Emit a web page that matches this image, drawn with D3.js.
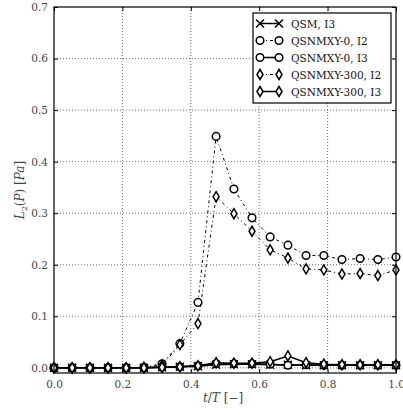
<!DOCTYPE html>
<html>
<head>
<meta charset="utf-8">
<script src="https://cdn.jsdelivr.net/npm/d3@7"></script>
<style>
  body { margin: 0; background: #fff; }
  svg { font-family: "DejaVu Serif", serif; }
  .tick-label { font-size: 10.5px; fill: #444; }
  .legend-text { font-size: 10.5px; fill: #111; }
</style>
</head>
<body>
<svg id="chart"></svg>
<script>
// sample times t/T
const tValues = [0.000, 0.053, 0.105, 0.158, 0.211, 0.263, 0.316, 0.368, 0.421, 0.474,
                 0.526, 0.579, 0.632, 0.684, 0.737, 0.789, 0.842, 0.895, 0.947, 1.000];

// L2(P) values
const qsmI3 =     [0.000, 0.000, 0.000, 0.000, 0.000, 0.000, 0.001, 0.002, 0.003, 0.006,
                   0.007, 0.007, 0.006, 0.006, 0.005, 0.005, 0.005, 0.005, 0.005, 0.005];
const qsn0I2 =    [0.000, 0.000, 0.000, 0.000, 0.000, 0.001, 0.008, 0.047, 0.127, 0.449,
                   0.347, 0.291, 0.254, 0.238, 0.218, 0.218, 0.210, 0.212, 0.210, 0.215];
const qsn0I3 =    [0.000, 0.000, 0.000, 0.000, 0.000, 0.000, 0.001, 0.002, 0.004, 0.008,
                   0.008, 0.008, 0.007, 0.005, 0.006, 0.005, 0.005, 0.005, 0.005, 0.005];
const qsn300I2 =  [0.000, 0.000, 0.000, 0.000, 0.000, 0.001, 0.005, 0.045, 0.086, 0.332,
                   0.299, 0.265, 0.229, 0.213, 0.192, 0.190, 0.182, 0.183, 0.179, 0.190];
const qsn300I3 =  [0.000, 0.000, 0.000, 0.000, 0.000, 0.000, 0.001, 0.002, 0.004, 0.010,
                   0.009, 0.009, 0.012, 0.023, 0.010, 0.007, 0.006, 0.006, 0.006, 0.006];

const xTicks = [0.0, 0.2, 0.4, 0.6, 0.8, 1.0];
const yTicks = [0.0, 0.1, 0.2, 0.3, 0.4, 0.5, 0.6, 0.7];

const seriesNames = ['QSM, I3', 'QSNMXY-0, I2', 'QSNMXY-0, I3', 'QSNMXY-300, I2', 'QSNMXY-300, I3'];
const seriesValues = [qsmI3, qsn0I2, qsn0I3, qsn300I2, qsn300I3];
const seriesMarkers = ['x', 'circle', 'circle', 'diamond', 'diamond'];
const seriesDashed = [false, true, false, true, false];

const containerWidth = 403, containerHeight = 415;
const margin = { top: 7, right: 7, bottom: 42, left: 54 };
const width = containerWidth - margin.left - margin.right;
const height = containerHeight - margin.top - margin.bottom;

const svg = d3.select('#chart')
    .attr('width', containerWidth)
    .attr('height', containerHeight);

const chart = svg.append('g')
    .attr('transform', `translate(${margin.left},${margin.top})`);

const xScale = d3.scaleLinear().domain([0, 1]).range([0, width]);
const yScale = d3.scaleLinear().domain([-0.01, 0.7]).range([height, 0]);

// grid
chart.selectAll('.xgrid')
    .data(xTicks.slice(1, -1))
    .join('line')
    .attr('x1', d => xScale(d)).attr('x2', d => xScale(d))
    .attr('y1', 0).attr('y2', height)
    .attr('stroke', '#333').attr('stroke-width', 0.7)
    .attr('stroke-dasharray', '1,2');

chart.selectAll('.ygrid')
    .data(yTicks.slice(0, -1))
    .join('line')
    .attr('x1', 0).attr('x2', width)
    .attr('y1', d => yScale(d)).attr('y2', d => yScale(d))
    .attr('stroke', '#333').attr('stroke-width', 0.7)
    .attr('stroke-dasharray', '1,2');

// axes with inward ticks on all sides
const fmt = d3.format('.1f');
const styleAxis = g => {
    g.select('.domain').remove();
    g.selectAll('.tick line').attr('stroke', '#000');
    g.selectAll('.tick text').attr('class', 'tick-label').attr('fill', null)
        .style('font-family', '"DejaVu Serif", serif');
};

chart.append('g')
    .attr('transform', `translate(0,${height})`)
    .call(d3.axisBottom(xScale).tickValues(xTicks).tickFormat(fmt).tickSizeInner(-4).tickPadding(8))
    .call(styleAxis);
chart.append('g')
    .call(d3.axisTop(xScale).tickValues(xTicks).tickFormat('').tickSizeInner(-4))
    .call(styleAxis);
chart.append('g')
    .call(d3.axisLeft(yScale).tickValues(yTicks).tickFormat(fmt).tickSizeInner(-4).tickPadding(6))
    .call(styleAxis);
chart.append('g')
    .attr('transform', `translate(${width},0)`)
    .call(d3.axisRight(yScale).tickValues(yTicks).tickFormat('').tickSizeInner(-4))
    .call(styleAxis);

// markers
const drawMarker = (sel, type) => {
    if (type === 'circle') {
        sel.append('circle').attr('r', 3.8)
            .attr('fill', '#fff').attr('stroke', '#000').attr('stroke-width', 1.5);
    } else if (type === 'diamond') {
        sel.append('path').attr('d', 'M0,-5L3,0L0,5L-3,0Z')
            .attr('fill', '#fff').attr('stroke', '#000').attr('stroke-width', 1.5);
    } else {
        sel.append('path').attr('d', 'M-4,-4L4,4M-4,4L4,-4')
            .attr('fill', 'none').attr('stroke', '#000').attr('stroke-width', 1.5);
    }
};

const line = d3.line()
    .x(d => xScale(d[0]))
    .y(d => yScale(d[1]));

const plot = chart.append('g');
seriesValues.forEach((vals, i) => {
    const pts = tValues.map((t, j) => [t, vals[j]]);
    plot.append('path')
        .datum(pts)
        .attr('fill', 'none')
        .attr('stroke', '#000')
        .attr('stroke-width', seriesDashed[i] ? 1 : 1.5)
        .attr('stroke-dasharray', seriesDashed[i] ? '3,3,1,3' : null)
        .attr('d', line);
    plot.selectAll(null)
        .data(pts)
        .join('g')
        .attr('transform', d => `translate(${xScale(d[0])},${yScale(d[1])})`)
        .each(function () { drawMarker(d3.select(this), seriesMarkers[i]); });
});

// frame
chart.append('rect')
    .attr('width', width).attr('height', height)
    .attr('fill', 'none').attr('stroke', '#000').attr('stroke-width', 1.2);

// legend
const legend = svg.append('g').attr('transform', 'translate(253,13)');
legend.append('rect')
    .attr('width', 138).attr('height', 90)
    .attr('fill', '#fff').attr('stroke', '#000').attr('stroke-width', 1.2);

seriesNames.forEach((name, i) => {
    const y = 10.5 + i * 17;
    const row = legend.append('g').attr('transform', `translate(0,${y})`);
    row.append('line')
        .attr('x1', 7).attr('x2', 26)
        .attr('stroke', '#000')
        .attr('stroke-width', seriesDashed[i] ? 1 : 1.5)
        .attr('stroke-dasharray', seriesDashed[i] ? '3,3,1,3' : null);
    drawMarker(row.append('g').attr('transform', 'translate(7,0)'), seriesMarkers[i]);
    drawMarker(row.append('g').attr('transform', 'translate(26,0)'), seriesMarkers[i]);
    row.append('text')
        .attr('class', 'legend-text')
        .attr('x', 38).attr('y', 4)
        .text(name);
});

// axis labels
svg.append('text')
    .attr('x', margin.left + width / 2 - 2)
    .attr('y', 402)
    .attr('text-anchor', 'middle')
    .style('font-size', '12px')
    .attr('fill', '#444')
    .html('<tspan font-style="italic">t</tspan>/<tspan font-style="italic">T</tspan> [−]');

svg.append('text')
    .attr('transform', `translate(24,${margin.top + height / 2}) rotate(-90)`)
    .attr('text-anchor', 'middle')
    .style('font-size', '12px')
    .attr('fill', '#444')
    .html('<tspan font-style="italic">L</tspan><tspan font-size="8px" dy="3">2</tspan><tspan dy="-3">(</tspan><tspan font-style="italic">P</tspan>) [<tspan font-style="italic">Pa</tspan>]');
</script>
</body>
</html>
